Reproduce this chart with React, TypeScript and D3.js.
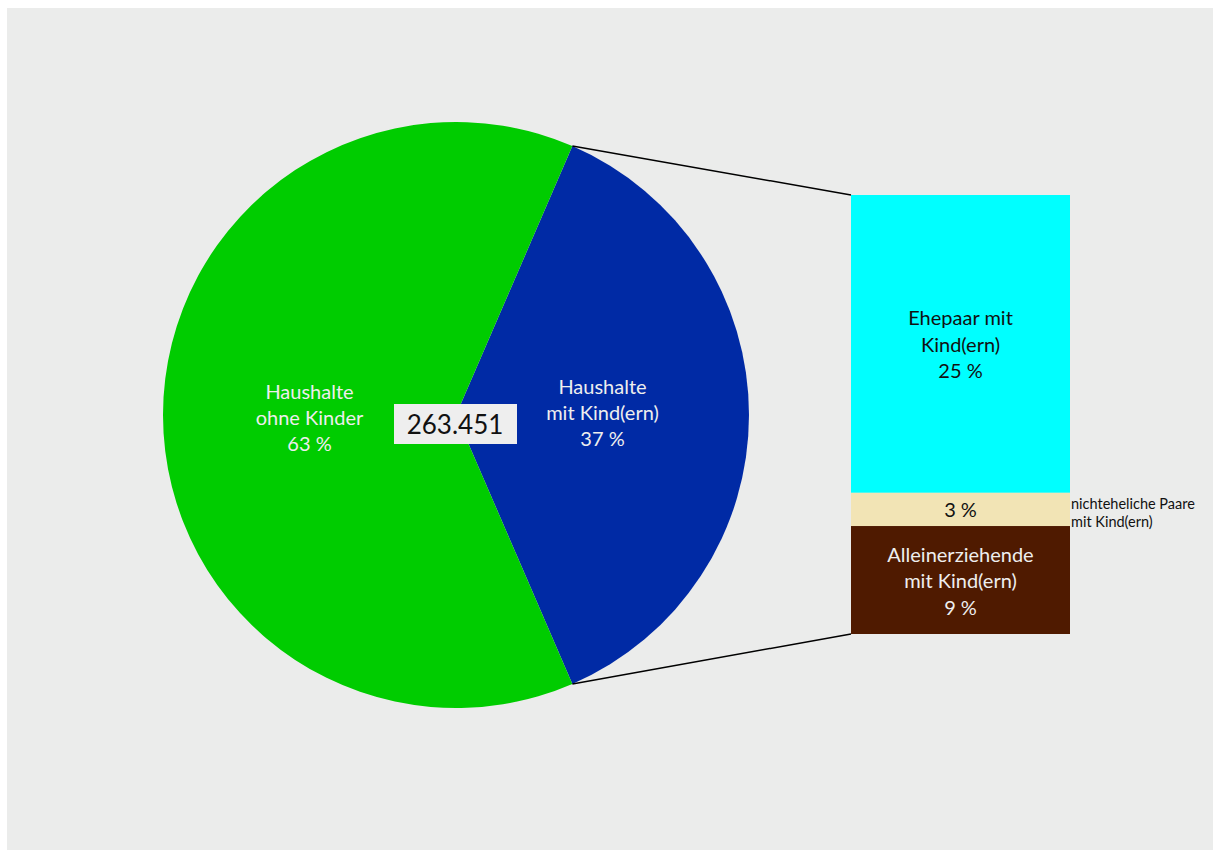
import React from "react";
import * as d3 from "d3";

const pieCategories = ["Haushalte mit Kind(ern)", "Haushalte ohne Kinder"];
const pieValues = [37, 63];
const pieLabels = [["Haushalte", "mit Kind(ern)", "37 %"], ["Haushalte", "ohne Kinder", "63 %"]];
const pieColors = ["#002aa5", "#00cc00"];

const barCategories = ["Ehepaar mit Kind(ern)", "nichteheliche Paare mit Kind(ern)", "Alleinerziehende mit Kind(ern)"];
const barValues = [25.1, 2.8, 9.1];
const barLabels = [["Ehepaar mit", "Kind(ern)", "25 %"], ["3 %"], ["Alleinerziehende", "mit Kind(ern)", "9 %"]];
const barColors = ["#00ffff", "#f2e4b5", "#4f1a00"];
const barTextColors = ["#111", "#111", "#eeeeee"];
const sideLabel = ["nichteheliche Paare", "mit Kind(ern)"];
const totalLabel = "263.451";

const FONT = "Lato, 'Open Sans', sans-serif";

export default function App() {
  const ox = 7, oy = 8; // page offset
  const W = 1213 - ox, H = 850 - oy;
  const cx = 456 - ox, cy = 415 - oy, R = 293;
  const share = pieValues[0] / d3.sum(pieValues);
  const pie = d3.pie<number>().sort(null)
    .startAngle(Math.PI / 2 - share * Math.PI)
    .endAngle(Math.PI / 2 - share * Math.PI + 2 * Math.PI);
  const arcs = pie(pieValues);
  const arc = d3.arc<d3.PieArcDatum<number>>().innerRadius(0).outerRadius(R);
  const labelArc = d3.arc<d3.PieArcDatum<number>>().innerRadius(R / 2).outerRadius(R / 2);

  const barX = 851 - ox, barW = 219;
  const y = d3.scaleLinear().domain([0, d3.sum(barValues)]).range([195 - oy, 634 - oy]);
  let acc = 0;
  const bars = barValues.map((v, i) => {
    const y0 = y(acc); acc += v; const y1 = y(acc);
    return { y0, y1, i };
  });

  const blue = arcs[0];
  const pt = (a: number) => [cx + R * Math.sin(a), cy - R * Math.cos(a)];
  const top = pt(blue.startAngle);
  const bot = pt(blue.endAngle);
  const lh = 26;

  return (
    <svg width={W} height={H} style={{ display: "block", position: "fixed", left: ox, top: oy }}>
      <rect x={0} y={0} width={W} height={H} fill="#ebeceb" />
      <g transform={`translate(${cx},${cy})`}>
        {arcs.map((a, i) => (
          <path key={i} d={arc(a) || ""} fill={pieColors[i]} />
        ))}
        {arcs.map((a, i) => {
          const [lx, ly] = labelArc.centroid(a);
          const lines = pieLabels[i];
          const dy = i === 0 ? -3 : 2;
          return (
            <text key={i} x={lx} y={ly + dy} textAnchor="middle" fill="#eeeeee"
              fontFamily={FONT} fontSize={20}>
              {lines.map((t, j) => (
                <tspan key={j} x={lx} y={ly + dy + (j - (lines.length - 1) / 2) * lh} dominantBaseline="central">{t}</tspan>
              ))}
            </text>
          );
        })}
        <rect x={394 - 456} y={404 - 415} width={123} height={40} fill="#eeeeee" />
        <text x={455 - 456} y={424 - 415} textAnchor="middle" dominantBaseline="central"
          fontFamily={FONT} fontSize={26} fill="#111">{totalLabel}</text>
      </g>
      <line x1={top[0]} y1={top[1]} x2={barX} y2={y(0)} stroke="#000" strokeWidth={1.5} />
      <line x1={bot[0]} y1={bot[1]} x2={barX} y2={y(d3.sum(barValues))} stroke="#000" strokeWidth={1.5} />
      {bars.map(b => {
        const lines = barLabels[b.i];
        const mid = (b.y0 + b.y1) / 2;
        return (
          <g key={b.i}>
            <rect x={barX} y={b.y0} width={barW} height={b.y1 - b.y0} fill={barColors[b.i]} />
            <text textAnchor="middle" fill={barTextColors[b.i]} fontFamily={FONT} fontSize={20}>
              {lines.map((t, j) => (
                <tspan key={j} x={barX + barW / 2} y={mid + (j - (lines.length - 1) / 2) * 26.5} dominantBaseline="central">{t}</tspan>
              ))}
            </text>
          </g>
        );
      })}
      <text fontFamily={FONT} fontSize={14.5} fill="#111">
        {sideLabel.map((t, j) => (
          <tspan key={j} x={barX + barW + 1} y={503 - oy + j * 18} dominantBaseline="central">{t}</tspan>
        ))}
      </text>
    </svg>
  );
}
